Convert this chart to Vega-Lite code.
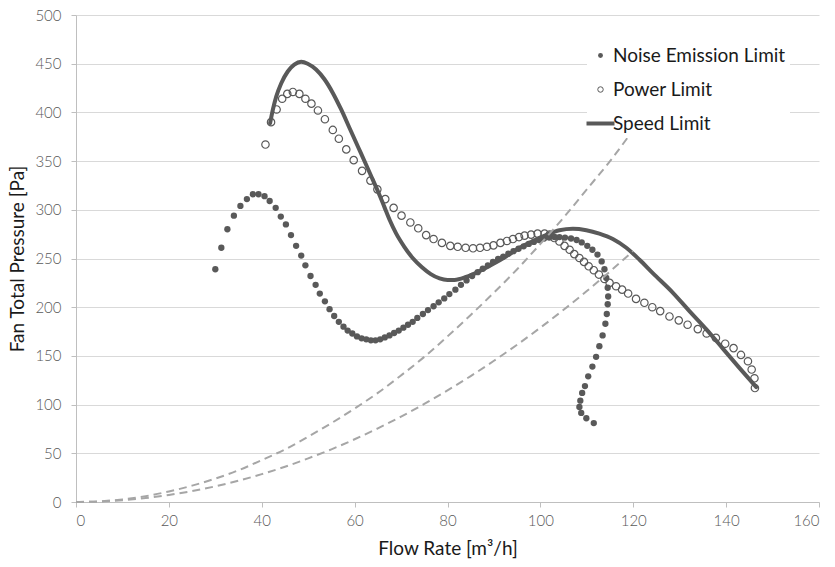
{
  "$schema": "https://vega.github.io/schema/vega-lite/v6.json",
  "width": 743,
  "height": 487,
  "autosize": {"type": "none"},
  "padding": {"left": 76, "top": 15, "right": 16, "bottom": 65},
  "config": {
    "font": "Lato",
    "view": {"stroke": null},
    "axis": {
      "domainColor": "#bfbfbf",
      "tickColor": "#bfbfbf",
      "tickSize": 5,
      "labelFont": "Lato",
      "labelFontSize": 15,
      "labelFontWeight": 300,
      "labelColor": "#595959",
      "titleFont": "Lato",
      "titleFontSize": 19,
      "titleFontWeight": "normal",
      "titleColor": "#1a1a1a",
      "gridColor": "#d9d9d9",
      "gridWidth": 1
    }
  },
  "datasets": {
    "noise": [
      {"x": 30.0, "y": 239}, {"x": 31.3, "y": 261}, {"x": 32.6, "y": 280}, {"x": 34.0, "y": 294},
      {"x": 35.4, "y": 304}, {"x": 36.8, "y": 311}, {"x": 38.1, "y": 316}, {"x": 39.3, "y": 316},
      {"x": 40.6, "y": 314}, {"x": 41.7, "y": 309}, {"x": 43.0, "y": 302}, {"x": 44.1, "y": 293},
      {"x": 45.2, "y": 285}, {"x": 46.3, "y": 274}, {"x": 47.4, "y": 263}, {"x": 48.5, "y": 253},
      {"x": 49.4, "y": 243}, {"x": 50.5, "y": 232}, {"x": 51.6, "y": 223}, {"x": 52.5, "y": 214},
      {"x": 53.6, "y": 206}, {"x": 54.6, "y": 198}, {"x": 55.6, "y": 191}, {"x": 56.6, "y": 185},
      {"x": 57.6, "y": 180}, {"x": 58.5, "y": 176}, {"x": 59.5, "y": 173}, {"x": 60.5, "y": 170},
      {"x": 61.5, "y": 168}, {"x": 62.5, "y": 167}, {"x": 63.5, "y": 166}, {"x": 64.5, "y": 166},
      {"x": 65.5, "y": 167}, {"x": 66.5, "y": 169}, {"x": 67.5, "y": 171}, {"x": 68.5, "y": 173.5},
      {"x": 69.5, "y": 176}, {"x": 70.5, "y": 179}, {"x": 71.5, "y": 182}, {"x": 72.5, "y": 185},
      {"x": 73.5, "y": 189}, {"x": 74.7, "y": 193}, {"x": 75.8, "y": 197}, {"x": 77.0, "y": 201},
      {"x": 78.1, "y": 205}, {"x": 79.3, "y": 209}, {"x": 80.4, "y": 213.5}, {"x": 81.7, "y": 218},
      {"x": 82.9, "y": 223}, {"x": 84.1, "y": 227.5}, {"x": 85.3, "y": 232}, {"x": 86.5, "y": 236},
      {"x": 87.6, "y": 239.5}, {"x": 88.7, "y": 243}, {"x": 89.8, "y": 246.5}, {"x": 90.9, "y": 249.5},
      {"x": 92.0, "y": 252}, {"x": 93.1, "y": 255}, {"x": 94.2, "y": 257.5}, {"x": 95.3, "y": 260},
      {"x": 96.4, "y": 262.5}, {"x": 97.5, "y": 265}, {"x": 98.6, "y": 267}, {"x": 99.7, "y": 269},
      {"x": 100.8, "y": 270.5}, {"x": 101.9, "y": 271.5}, {"x": 103.0, "y": 272}, {"x": 104.1, "y": 272},
      {"x": 105.3, "y": 271.5}, {"x": 106.6, "y": 270.5}, {"x": 107.8, "y": 269}, {"x": 108.9, "y": 266.5},
      {"x": 110.1, "y": 263}, {"x": 111.2, "y": 259}, {"x": 112.3, "y": 254}, {"x": 113.2, "y": 247},
      {"x": 113.8, "y": 239}, {"x": 114.2, "y": 230}, {"x": 114.5, "y": 220}, {"x": 114.6, "y": 211},
      {"x": 114.5, "y": 203}, {"x": 114.3, "y": 193}, {"x": 114.0, "y": 183}, {"x": 113.4, "y": 171},
      {"x": 112.7, "y": 160}, {"x": 112.0, "y": 149}, {"x": 111.2, "y": 139}, {"x": 110.3, "y": 129},
      {"x": 109.6, "y": 119}, {"x": 109.0, "y": 112}, {"x": 108.6, "y": 104}, {"x": 108.4, "y": 97.5},
      {"x": 108.8, "y": 91.5}, {"x": 109.9, "y": 86}, {"x": 111.5, "y": 81}
    ],
    "power": [
      {"x": 40.8, "y": 367}, {"x": 42.0, "y": 390}, {"x": 43.2, "y": 403}, {"x": 44.4, "y": 414},
      {"x": 45.5, "y": 419}, {"x": 46.7, "y": 421}, {"x": 48.1, "y": 419}, {"x": 49.4, "y": 414},
      {"x": 50.7, "y": 409}, {"x": 52.1, "y": 402}, {"x": 53.6, "y": 393}, {"x": 55.3, "y": 382},
      {"x": 56.6, "y": 373}, {"x": 58.2, "y": 362}, {"x": 59.8, "y": 351}, {"x": 61.6, "y": 340},
      {"x": 63.4, "y": 330}, {"x": 64.9, "y": 321}, {"x": 66.6, "y": 311}, {"x": 68.4, "y": 302},
      {"x": 70.1, "y": 294}, {"x": 72.0, "y": 287}, {"x": 73.7, "y": 281}, {"x": 75.4, "y": 274},
      {"x": 77.0, "y": 270}, {"x": 78.8, "y": 266}, {"x": 80.6, "y": 263}, {"x": 82.2, "y": 262},
      {"x": 83.9, "y": 261}, {"x": 85.5, "y": 260.5}, {"x": 87.0, "y": 261}, {"x": 88.5, "y": 262},
      {"x": 89.9, "y": 263.5}, {"x": 91.4, "y": 266}, {"x": 92.8, "y": 268}, {"x": 94.1, "y": 270},
      {"x": 95.4, "y": 272}, {"x": 96.6, "y": 273.5}, {"x": 98.0, "y": 274.5}, {"x": 99.4, "y": 275.5},
      {"x": 100.9, "y": 275.5}, {"x": 102.0, "y": 274.5}, {"x": 103.0, "y": 271}, {"x": 104.1, "y": 267.5},
      {"x": 105.2, "y": 263}, {"x": 106.3, "y": 259}, {"x": 107.3, "y": 254.5}, {"x": 108.4, "y": 250.5},
      {"x": 109.4, "y": 246.5}, {"x": 110.4, "y": 242}, {"x": 111.5, "y": 238}, {"x": 112.6, "y": 233.5},
      {"x": 113.8, "y": 229}, {"x": 114.9, "y": 225}, {"x": 116.3, "y": 221.5}, {"x": 117.6, "y": 218},
      {"x": 118.9, "y": 214}, {"x": 120.6, "y": 208.5}, {"x": 122.4, "y": 204.5}, {"x": 124.1, "y": 200},
      {"x": 125.8, "y": 196}, {"x": 127.8, "y": 190.5}, {"x": 129.8, "y": 186.5}, {"x": 131.7, "y": 182},
      {"x": 133.9, "y": 177.5}, {"x": 135.8, "y": 173}, {"x": 137.8, "y": 168.5}, {"x": 139.8, "y": 162.5},
      {"x": 141.6, "y": 158}, {"x": 143.2, "y": 151}, {"x": 144.7, "y": 144.5}, {"x": 145.5, "y": 136},
      {"x": 146.1, "y": 127}, {"x": 146.2, "y": 117}
    ],
    "speed": [
      {"x": 41.8, "y": 389}, {"x": 42.4, "y": 403}, {"x": 43.1, "y": 416}, {"x": 44.2, "y": 430},
      {"x": 45.6, "y": 442}, {"x": 47.0, "y": 449}, {"x": 48.5, "y": 452}, {"x": 49.9, "y": 450},
      {"x": 51.7, "y": 444}, {"x": 53.5, "y": 434}, {"x": 55.3, "y": 420}, {"x": 57.1, "y": 403},
      {"x": 58.9, "y": 384}, {"x": 60.7, "y": 365}, {"x": 62.5, "y": 346}, {"x": 63.9, "y": 331},
      {"x": 65.2, "y": 317}, {"x": 66.4, "y": 303}, {"x": 67.6, "y": 289}, {"x": 68.9, "y": 276},
      {"x": 70.7, "y": 262}, {"x": 72.5, "y": 250.5}, {"x": 74.5, "y": 241}, {"x": 76.4, "y": 234},
      {"x": 78.3, "y": 229.5}, {"x": 80.0, "y": 228}, {"x": 81.5, "y": 228}, {"x": 84.0, "y": 231},
      {"x": 86.9, "y": 237}, {"x": 89.7, "y": 244}, {"x": 92.6, "y": 252}, {"x": 95.5, "y": 261},
      {"x": 98.4, "y": 268}, {"x": 101.2, "y": 274}, {"x": 104.1, "y": 279}, {"x": 107.0, "y": 280.5},
      {"x": 109.9, "y": 279}, {"x": 112.7, "y": 275.5}, {"x": 115.6, "y": 270}, {"x": 118.5, "y": 261},
      {"x": 121.3, "y": 249}, {"x": 124.2, "y": 235}, {"x": 128.5, "y": 215}, {"x": 132.1, "y": 196},
      {"x": 135.7, "y": 177.5}, {"x": 139.3, "y": 157.5}, {"x": 142.9, "y": 137.5}, {"x": 146.5, "y": 118}
    ],
    "system": [
      {"c": "A", "x": 0, "y": 0}, {"c": "A", "x": 5, "y": 0.7}, {"c": "A", "x": 10, "y": 2.7},
      {"c": "A", "x": 15, "y": 6}, {"c": "A", "x": 20, "y": 10.8}, {"c": "A", "x": 25, "y": 16.8},
      {"c": "A", "x": 30, "y": 24}, {"c": "A", "x": 35, "y": 32.6}, {"c": "A", "x": 40, "y": 43},
      {"c": "A", "x": 45, "y": 54}, {"c": "A", "x": 50, "y": 67}, {"c": "A", "x": 55, "y": 81},
      {"c": "A", "x": 60, "y": 96}, {"c": "A", "x": 65, "y": 112}, {"c": "A", "x": 70, "y": 130},
      {"c": "A", "x": 75, "y": 149}, {"c": "A", "x": 80, "y": 170}, {"c": "A", "x": 85, "y": 192},
      {"c": "A", "x": 90, "y": 215}, {"c": "A", "x": 95, "y": 239}, {"c": "A", "x": 100, "y": 265},
      {"c": "A", "x": 105, "y": 292}, {"c": "A", "x": 110, "y": 321}, {"c": "A", "x": 115, "y": 350},
      {"c": "A", "x": 120, "y": 382},
      {"c": "B", "x": 0, "y": 0}, {"c": "B", "x": 5, "y": 0.4}, {"c": "B", "x": 10, "y": 1.8},
      {"c": "B", "x": 15, "y": 4}, {"c": "B", "x": 20, "y": 7.2}, {"c": "B", "x": 25, "y": 11.2},
      {"c": "B", "x": 30, "y": 16.1}, {"c": "B", "x": 35, "y": 21.9}, {"c": "B", "x": 40, "y": 28.6},
      {"c": "B", "x": 45, "y": 36.2}, {"c": "B", "x": 50, "y": 44.8}, {"c": "B", "x": 55, "y": 54.1},
      {"c": "B", "x": 60, "y": 64.4}, {"c": "B", "x": 65, "y": 75.6}, {"c": "B", "x": 70, "y": 87.7},
      {"c": "B", "x": 75, "y": 100.7}, {"c": "B", "x": 80, "y": 114.6}, {"c": "B", "x": 85, "y": 129.3},
      {"c": "B", "x": 90, "y": 145}, {"c": "B", "x": 95, "y": 161.5}, {"c": "B", "x": 100, "y": 179},
      {"c": "B", "x": 105, "y": 197.3}, {"c": "B", "x": 110, "y": 216.6}, {"c": "B", "x": 115, "y": 236.7},
      {"c": "B", "x": 120, "y": 257.8}
    ]
  },
  "encoding": {
    "x": {
      "field": "x", "type": "quantitative",
      "scale": {"domain": [0, 160], "nice": false, "zero": true},
      "axis": {"values": [0, 20, 40, 60, 80, 100, 120, 140, 160], "grid": false, "labelPadding": 6, "title": "Flow Rate [m³/h]", "titlePadding": 11}
    },
    "y": {
      "field": "y", "type": "quantitative",
      "scale": {"domain": [0, 500], "nice": false},
      "axis": {"values": [0, 50, 100, 150, 200, 250, 300, 350, 400, 450, 500], "grid": true, "labelPadding": 10, "title": "Fan Total Pressure [Pa]", "titlePadding": 7}
    },
    "color": {
      "field": "series", "type": "nominal",
      "scale": {"domain": ["Noise Emission Limit", "Power Limit", "Speed Limit"], "range": ["#595959", "#595959", "#595959"]},
      "legend": {
        "orient": "none", "legendX": 511, "legendY": 27,
        "title": null, "fillColor": "white", "padding": 4,
        "labelFont": "Lato", "labelFontSize": 19, "labelColor": "#1a1a1a", "labelLimit": 400,
        "labelOffset": 3, "rowPadding": 14, "symbolSize": 784, "symbolType": "circle",
        "encode": {
          "symbols": {
            "update": {
              "shape": {"signal": "datum.value === 'Speed Limit' ? 'stroke' : 'circle'"},
              "size": {"signal": "datum.value === 'Speed Limit' ? 784 : (datum.value === 'Noise Emission Limit' ? 24 : 30)"},
              "fill": {"signal": "datum.value === 'Noise Emission Limit' ? '#595959' : 'white'"},
              "fillOpacity": {"signal": "datum.value === 'Noise Emission Limit' ? 1 : 0"},
              "stroke": {"value": "#595959"},
              "strokeWidth": {"signal": "datum.value === 'Speed Limit' ? 4 : (datum.value === 'Noise Emission Limit' ? 0 : 1)"},
              "opacity": {"value": 1}
            }
          }
        }
      }
    }
  },
  "layer": [
    {
      "data": {"name": "noise"},
      "transform": [{"calculate": "'Noise Emission Limit'", "as": "series"}],
      "mark": {"type": "point", "shape": "circle", "filled": true, "size": 40, "opacity": 1}
    },
    {
      "data": {"name": "power"},
      "transform": [{"calculate": "'Power Limit'", "as": "series"}],
      "mark": {"type": "point", "shape": "circle", "filled": false, "size": 55, "strokeWidth": 1.2, "opacity": 1}
    },
    {
      "data": {"name": "speed"},
      "transform": [{"calculate": "'Speed Limit'", "as": "series"}],
      "mark": {"type": "line", "strokeWidth": 4, "interpolate": "monotone", "strokeCap": "round"}
    },
    {
      "data": {"name": "system"},
      "mark": {"type": "line", "strokeWidth": 2, "strokeDash": [8, 5], "interpolate": "monotone"},
      "encoding": {"color": {"value": "#a6a6a6"}, "detail": {"field": "c", "type": "nominal"}}
    }
  ]
}
